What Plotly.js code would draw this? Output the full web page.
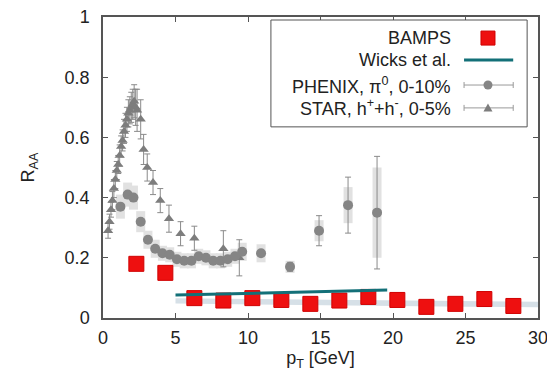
<!DOCTYPE html>
<html>
<head>
<meta charset="utf-8">
<script src="https://cdn.plot.ly/plotly-3.0.1.min.js"></script>
<style>html,body{margin:0;padding:0;background:#fff;}#chart{width:547px;height:377px;}</style>
</head>
<body>
<div id="chart"></div>
<script>
// ---- data ----
const bampsPt = [2.3, 4.3, 6.3, 8.3, 10.3, 12.3, 14.3, 16.3, 18.3, 20.3, 22.3, 24.3, 26.3, 28.3];
const bampsR  = [0.18, 0.15, 0.066, 0.058, 0.066, 0.06, 0.047, 0.058, 0.07, 0.06, 0.037, 0.047, 0.063, 0.04];

const bandPt    = [5, 10, 15, 20, 25, 30];
const bandLow   = [0.048, 0.045, 0.042, 0.040, 0.037, 0.036];
const bandHigh  = [0.066, 0.064, 0.060, 0.058, 0.056, 0.054];

const wicksPt = [5, 9.5, 19.6];
const wicksR  = [0.076, 0.082, 0.093];

const phenixPt   = [1.2, 1.7, 2.1, 2.6, 3.1, 3.6, 4.1, 4.6, 5.1, 5.6, 6.1, 6.6, 7.1, 7.6, 8.1, 8.6, 9.1, 9.6, 10.9, 12.9, 14.9, 16.9, 18.9];
const phenixR    = [0.37, 0.41, 0.40, 0.32, 0.26, 0.23, 0.215, 0.21, 0.195, 0.19, 0.19, 0.205, 0.20, 0.19, 0.19, 0.195, 0.205, 0.22, 0.215, 0.17, 0.29, 0.375, 0.35];
const phenixStat = [0.005, 0.005, 0.005, 0.005, 0.005, 0.005, 0.005, 0.005, 0.005, 0.005, 0.005, 0.005, 0.006, 0.006, 0.007, 0.008, 0.009, 0.01, 0.01, 0.015, 0.05, 0.093, 0.187];
const phenixSys  = [0.04, 0.04, 0.04, 0.035, 0.03, 0.03, 0.025, 0.025, 0.025, 0.025, 0.025, 0.025, 0.025, 0.025, 0.025, 0.025, 0.025, 0.03, 0.03, 0.02, 0.035, 0.06, 0.15];

const starPt  = [0.35, 0.45, 0.55, 0.65, 0.75, 0.85, 0.95, 1.05, 1.15, 1.25, 1.35, 1.45, 1.55, 1.65, 1.75, 1.85, 1.95, 2.05, 2.15, 2.25, 2.35, 2.6, 2.8, 3.05, 3.45, 3.95, 4.55, 5.35, 6.3, 8.3, 9.4];
const starR   = [0.29, 0.32, 0.36, 0.39, 0.43, 0.46, 0.49, 0.51, 0.54, 0.57, 0.59, 0.62, 0.64, 0.66, 0.68, 0.69, 0.70, 0.71, 0.72, 0.70, 0.69, 0.66, 0.56, 0.50, 0.45, 0.39, 0.33, 0.28, 0.265, 0.23, 0.20];
const starErr = [0.025, 0.025, 0.025, 0.03, 0.03, 0.03, 0.03, 0.03, 0.035, 0.035, 0.035, 0.04, 0.04, 0.04, 0.045, 0.045, 0.05, 0.05, 0.055, 0.06, 0.07, 0.065, 0.05, 0.045, 0.04, 0.04, 0.045, 0.04, 0.04, 0.06, 0.06];

const xTicks = [0, 5, 10, 15, 20, 25, 30];
const yTicks = [0, 0.2, 0.4, 0.6, 0.8, 1];
const yTickText = ['0', '0.2', '0.4', '0.6', '0.8', '1'];

const legendLabels = ['BAMPS', 'Wicks et al.', 'PHENIX, \u03c0<sup>0</sup>, 0-10%', 'STAR, h<sup>+</sup>+h<sup>-</sup>, 0-5%'];

// ---- traces ----
const gray = '#858585';
const traces = [
  {x: bandPt, y: bandLow, mode: 'lines', line: {width: 0, color: 'rgba(0,0,0,0)'}, hoverinfo: 'skip', showlegend: false},
  {x: bandPt, y: bandHigh, mode: 'lines', fill: 'tonexty', fillcolor: '#d6e0e7', line: {width: 0, color: 'rgba(0,0,0,0)'}, hoverinfo: 'skip', showlegend: false},
  {x: phenixPt, y: phenixR, mode: 'markers', marker: {size: 1, color: 'rgba(0,0,0,0)'},
   error_y: {type: 'data', array: phenixSys, visible: true, thickness: 9, width: 0, color: '#e1e1e1'}, showlegend: false},
  {x: starPt, y: starR, mode: 'markers', marker: {symbol: 'triangle-up', size: 9, color: '#7d7d7d'},
   error_y: {type: 'data', array: starErr, visible: true, thickness: 1, width: 3, color: '#8a8a8a'}, showlegend: false},
  {x: phenixPt, y: phenixR, mode: 'markers', marker: {symbol: 'circle', size: 10, color: gray},
   error_y: {type: 'data', array: phenixStat, visible: true, thickness: 1, width: 3, color: '#8a8a8a'}, showlegend: false},
  {x: bampsPt, y: bampsR, mode: 'markers', marker: {symbol: 'square', size: 15, color: '#ee1010', line: {width: 1, color: '#d00000'}}, showlegend: false},
  {x: wicksPt, y: wicksR, mode: 'lines', line: {color: '#137078', width: 3}, showlegend: false}
];

// ---- legend (text left of keys, gnuplot style) ----
const rowY = [0.930, 0.857, 0.774, 0.698];
const textX = 0.805, keyX = 0.885, keyL = 0.83, keyR = 0.943;
const annotations = legendLabels.map((t, i) => ({
  xref: 'paper', yref: 'paper', x: textX, y: rowY[i], xanchor: 'right', yanchor: 'middle',
  text: t, showarrow: false, font: {size: 18, color: '#222'}
}));
const shapes = [
  {type: 'rect', xref: 'paper', yref: 'paper', x0: 0.386, x1: 0.975, y0: 0.635, y1: 0.99, line: {color: '#555', width: 1}, fillcolor: 'white', layer: 'above'},
  {type: 'rect', xref: 'paper', yref: 'paper', xsizemode: 'pixel', ysizemode: 'pixel', xanchor: keyX, yanchor: rowY[0], x0: -7, x1: 7, y0: -7, y1: 7, fillcolor: '#ee1010', line: {color: '#d00000', width: 1}, layer: 'above'},
  {type: 'line', xref: 'paper', yref: 'paper', x0: keyL, x1: keyR, y0: rowY[1], y1: rowY[1], line: {color: '#137078', width: 3}, layer: 'above'},
  {type: 'line', xref: 'paper', yref: 'paper', x0: keyL, x1: keyR, y0: rowY[2], y1: rowY[2], line: {color: '#999', width: 1}, layer: 'above'},
  {type: 'line', xref: 'paper', yref: 'paper', x0: keyL, x1: keyR, y0: rowY[3], y1: rowY[3], line: {color: '#999', width: 1}, layer: 'above'},
  {type: 'circle', xref: 'paper', yref: 'paper', xsizemode: 'pixel', ysizemode: 'pixel', xanchor: keyX, yanchor: rowY[2], x0: -4.5, x1: 4.5, y0: -4.5, y1: 4.5, fillcolor: gray, line: {width: 0}, layer: 'above'},
  {type: 'path', xref: 'paper', yref: 'paper', xsizemode: 'pixel', ysizemode: 'pixel', xanchor: keyX, yanchor: rowY[3], path: 'M -4.5 -3.5 L 4.5 -3.5 L 0 4.5 Z', fillcolor: '#7d7d7d', line: {width: 0}, layer: 'above'}
];
[2, 3].forEach(i => {
  [keyL, keyR].forEach(xx => shapes.push({type: 'line', xref: 'paper', yref: 'paper', xsizemode: 'pixel', ysizemode: 'pixel', xanchor: xx, yanchor: rowY[i], x0: 0, x1: 0, y0: -3, y1: 3, line: {color: '#999', width: 1}, layer: 'above'}));
});

const layout = {
  width: 547, height: 377,
  margin: {l: 103, r: 9, t: 17, b: 59},
  paper_bgcolor: '#fff', plot_bgcolor: '#fff',
  font: {family: '"Liberation Sans", Arial, sans-serif', size: 18, color: '#222'},
  showlegend: false,
  xaxis: {
    range: [0, 30], tickmode: 'array', tickvals: xTicks, ticks: 'inside', ticklen: 5, tickcolor: '#555',
    showline: true, linecolor: '#555', linewidth: 1.5, mirror: 'ticks', showgrid: false, zeroline: false,
    ticklabelstandoff: 3, ticklabeloverflow: 'allow', automargin: false,
    title: {text: 'p<sub>T</sub> [GeV]', standoff: 0, font: {size: 18}}
  },
  yaxis: {
    range: [0, 1], tickmode: 'array', tickvals: yTicks, ticktext: yTickText, ticks: 'inside', ticklen: 5, tickcolor: '#555',
    showline: true, linecolor: '#555', linewidth: 1.5, mirror: 'ticks', showgrid: false, zeroline: false,
    ticklabelstandoff: 8, automargin: false,
    title: {text: 'R<sub>AA</sub>', standoff: 25, font: {size: 18}}
  },
  annotations: annotations,
  shapes: shapes
};

Plotly.newPlot('chart', traces, layout, {displayModeBar: false});
</script>
</body>
</html>
